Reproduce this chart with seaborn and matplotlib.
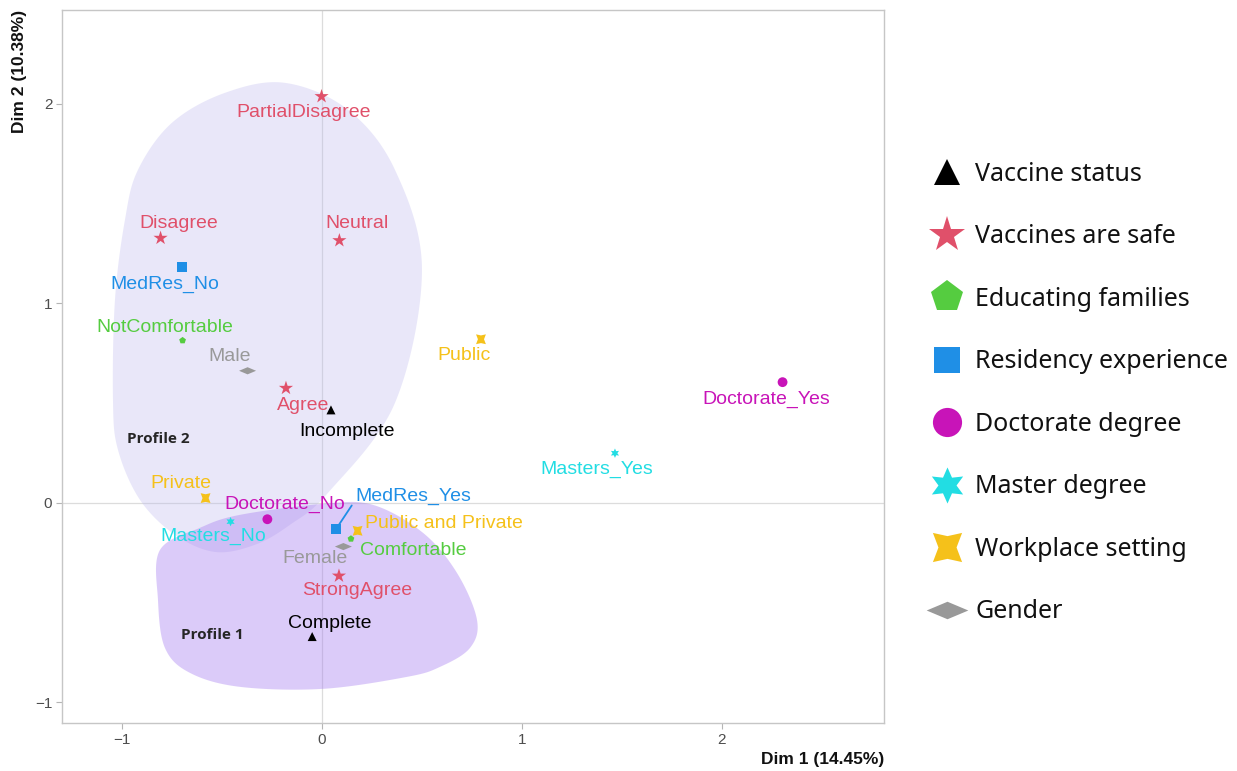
# MCA biplot with two profile regions
import numpy as np
import pandas as pd
import matplotlib
matplotlib.use("Agg")
import matplotlib.pyplot as plt
from matplotlib.path import Path
from matplotlib.lines import Line2D
import seaborn as sns

# -----------------------------------------
# DATA
# -----------------------------------------
labels = ["Complete", "Incomplete",
          "StrongAgree", "Agree", "Neutral", "PartialDisagree", "Disagree",
          "Comfortable", "NotComfortable",
          "MedRes_Yes", "MedRes_No",
          "Doctorate_Yes", "Doctorate_No",
          "Masters_Yes", "Masters_No",
          "Public", "Private", "Public and Private",
          "Female", "Male"]
dim1 = [-0.049, 0.045,
        0.085, -0.18, 0.087, -0.002, -0.807,
        0.145, -0.697,
        0.07, -0.698,
        2.303, -0.273,
        1.465, -0.457,
        0.795, -0.582, 0.178,
        0.107, -0.372]
dim2 = [-0.67, 0.466,
        -0.366, 0.575, 1.315, 2.037, 1.327,
        -0.18, 0.814,
        -0.132, 1.181,
        0.605, -0.082,
        0.249, -0.094,
        0.82, 0.024, -0.14,
        -0.219, 0.662]
group = (["Vaccine status"] * 2 + ["Vaccines are safe"] * 5 + ["Educating families"] * 2
         + ["Residency experience"] * 2 + ["Doctorate degree"] * 2 + ["Master degree"] * 2
         + ["Workplace setting"] * 3 + ["Gender"] * 2)

groups = ["Vaccine status", "Vaccines are safe", "Educating families",
          "Residency experience", "Doctorate degree", "Master degree",
          "Workplace setting", "Gender"]
colors = ["#000000", "#e0506a", "#55cc40", "#1f8fe6",
          "#c814b8", "#22dde3", "#f5c11a", "#999999"]

# profile regions (outline control points, data units)
profile2_x = [-0.185, 0.13, 0.365, 0.50, 0.365, 0.03, -0.16, -0.335, -0.535,
              -0.735, -0.91, -1.02, -1.045, -1.035, -0.985, -0.92, -0.75, -0.485]
profile2_y = [2.105, 1.97, 1.669, 1.168, 0.501, 0.05, -0.11, -0.21, -0.246,
              -0.16, 0.015, 0.266, 0.516, 1.018, 1.419, 1.669, 1.905, 2.055]
profile1_x = [-0.81, -0.61, -0.41, 0.005, 0.255, 0.505, 0.675, 0.775, 0.74,
              0.59, 0.425, 0.005, -0.41, -0.66, -0.785, -0.82]
profile1_y = [-0.236, -0.125, -0.06, -0.005, -0.01, -0.15, -0.351, -0.586, -0.727,
              -0.822, -0.872, -0.932, -0.922, -0.852, -0.727, -0.486]

# -----------------------------------------
# STYLE
# -----------------------------------------
sns.set_theme(style="white")
plt.rcParams["font.family"] = ["Liberation Sans", "DejaVu Sans"]

bowtie = Path([(-1, 1), (0, 0.78), (1, 1), (0.62, 0), (1, -1), (0, -0.78),
               (-1, -1), (-0.62, 0), (-1, 1)],
              [Path.MOVETO] + [Path.LINETO] * 7 + [Path.CLOSEPOLY])
wide_diamond = Path([(-1, 0), (0, 0.42), (1, 0), (0, -0.42), (-1, 0)],
                    [Path.MOVETO] + [Path.LINETO] * 3 + [Path.CLOSEPOLY])

marker_map = dict(zip(groups, ["^", "*", "p", "s", "o", (6, 1, 0), bowtie, wide_diamond]))
size_map = dict(zip(groups, [42, 115, 26, 50, 50, 46, 50, 150]))
legend_ms = dict(zip(groups, [19, 27, 24, 19, 21, 26, 21, 30]))
palette = dict(zip(groups, colors))

# label offsets in pixels (dx, dy)
offsets = {
    "Complete": (18, 13), "Incomplete": (16, -22),
    "StrongAgree": (18, -15), "Agree": (17, -17), "Neutral": (18, 17),
    "PartialDisagree": (-18, -16), "Disagree": (18, 15),
    "Comfortable": (62, -12), "NotComfortable": (-18, 13),
    "MedRes_Yes": (77, 33), "MedRes_No": (-18, -17),
    "Doctorate_Yes": (-16, -17), "Doctorate_No": (17, 15),
    "Masters_Yes": (-18, -16), "Masters_No": (-17, -15),
    "Public": (-17, -16), "Private": (-25, 15), "Public and Private": (86, 7),
    "Female": (-28, -12), "Male": (-18, 14),
}


def smooth_closed(xs, ys, n=24):
    # closed Catmull-Rom spline through the control points
    p = np.column_stack([xs, ys])
    m = len(p)
    t = np.linspace(0, 1, n, endpoint=False)[:, None]
    out = []
    for i in range(m):
        p0, p1, p2, p3 = p[(i - 1) % m], p[i], p[(i + 1) % m], p[(i + 2) % m]
        seg = 0.5 * (2 * p1 + (-p0 + p2) * t + (2 * p0 - 5 * p1 + 4 * p2 - p3) * t ** 2
                     + (-p0 + 3 * p1 - 3 * p2 + p3) * t ** 3)
        out.append(seg)
    return np.vstack(out)


df = pd.DataFrame({"dim1": dim1, "dim2": dim2, "group": group, "label": labels})

# -----------------------------------------
# FIGURE
# -----------------------------------------
fig = plt.figure(figsize=(12.37, 7.71), dpi=100)
ax = fig.add_axes([0.0501, 0.0623, 0.6645, 0.9247])

ax.axhline(0, color="#dcdcdc", lw=0.9, zorder=0)
ax.axvline(0, color="#dcdcdc", lw=0.9, zorder=0)

p2 = smooth_closed(profile2_x, profile2_y)
p1 = smooth_closed(profile1_x, profile1_y)
ax.fill(p2[:, 0], p2[:, 1], color="#bdb8ee", alpha=0.33, lw=0, zorder=1)
ax.fill(p1[:, 0], p1[:, 1], color="#a77ff0", alpha=0.40, lw=0, zorder=1)

sns.scatterplot(data=df, x="dim1", y="dim2", hue="group", style="group", size="group",
                palette=palette, markers=marker_map, sizes=size_map,
                linewidth=0, legend=False, ax=ax, zorder=3)

for lab, x, y, g in zip(labels, dim1, dim2, group):
    dx, dy = offsets[lab]
    arrow = None
    if lab == "MedRes_Yes":
        arrow = dict(arrowstyle="-", color=palette[g], lw=1.3,
                     shrinkA=0, shrinkB=4, relpos=(0.0, 0.25))
    ax.annotate(lab, (x, y), xytext=(dx, dy), textcoords="offset pixels",
                ha="center", va="center", fontsize=14, color=palette[g],
                arrowprops=arrow, zorder=4)

bold_font = ["Open Sans", "DejaVu Sans"]
ax.text(-0.818, 0.32, "Profile 2", ha="center", va="center", fontsize=11,
        fontweight="bold", family=bold_font, zorder=4)
ax.text(-0.55, -0.662, "Profile 1", ha="center", va="center", fontsize=11,
        fontweight="bold", family=bold_font, zorder=4)

ax.set_xlim(-1.30, 2.81)
ax.set_ylim(-1.103, 2.47)
ax.set_xticks([-1, 0, 1, 2])
ax.set_yticks([-1, 0, 1, 2])
ax.tick_params(axis="both", length=4, width=0.8, color="#b5b5b5",
               labelsize=11, labelcolor="#4d4d4d", pad=3, left=True, bottom=True)
for sp in ax.spines.values():
    sp.set_color("#c6c6c6")
    sp.set_linewidth(1.0)

ax.set_xlabel("Dim 1 (14.45%)", loc="right", fontsize=12.5, fontweight="bold",
              color="#111111", labelpad=4)
ax.set_ylabel("Dim 2 (10.38%)", loc="top", fontsize=12.5, fontweight="bold",
              color="#111111", labelpad=6)

# legend
handles = [Line2D([], [], ls="none", marker=marker_map[g], color=palette[g],
                  markeredgewidth=0, markersize=legend_ms[g]) for g in groups]
leg = fig.legend(handles, groups, loc="upper left", bbox_to_anchor=(0.744, 0.803),
                 frameon=False, labelspacing=1.5, handletextpad=0.5,
                 handlelength=1.3, borderaxespad=0,
                 prop={"family": ["Noto Sans", "DejaVu Sans"], "size": 18})
for t in leg.get_texts():
    t.set_color("#111111")

fig.savefig("out.png", dpi=100)
